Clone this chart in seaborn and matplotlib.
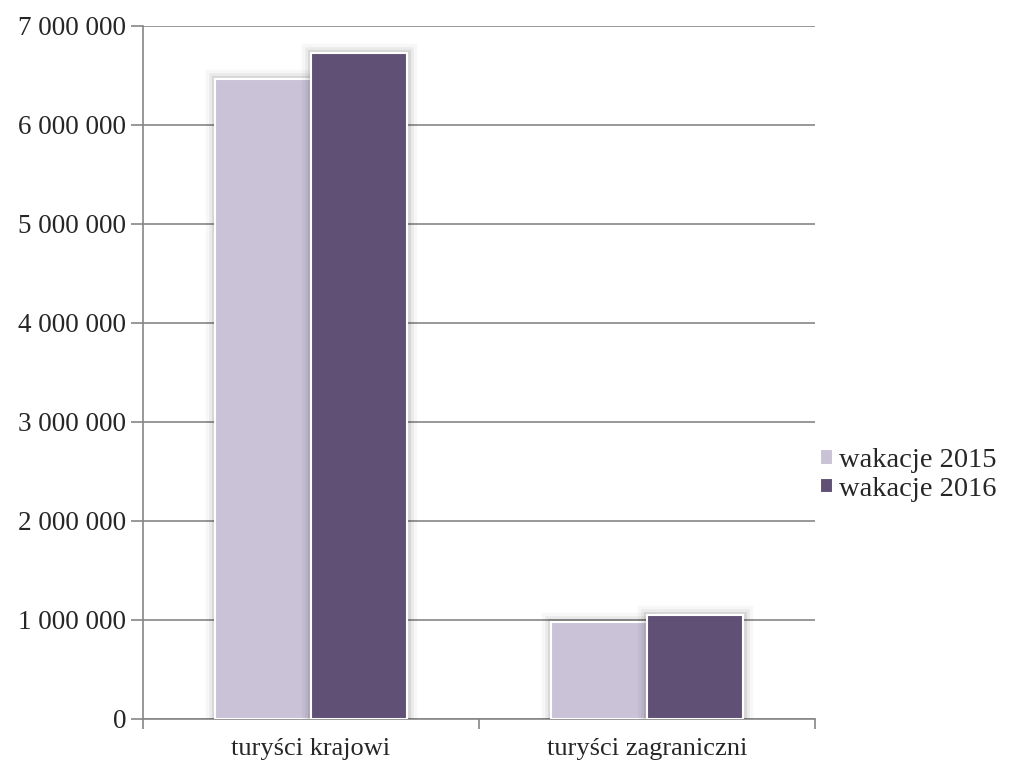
import pandas as pd
import matplotlib.pyplot as plt
import matplotlib.patheffects as pe
from matplotlib.ticker import FuncFormatter
import seaborn as sns

# Dane
kategorie = ["turyści krajowi", "turyści zagraniczni"]
wakacje_2015 = [6465000, 975000]
wakacje_2016 = [6728000, 1050000]
serie = ["wakacje 2015", "wakacje 2016"]
kolory = ["#C9BFDB", "#604A7B"]

df = pd.DataFrame({
    "kategoria": kategorie * 2,
    "seria": [serie[0]] * 2 + [serie[1]] * 2,
    "wartosc": wakacje_2015 + wakacje_2016,
})

sns.set_style("white")
plt.rcParams["font.family"] = ["Liberation Serif", "DejaVu Serif"]

fig = plt.figure(figsize=(10.18, 7.63), dpi=100)
ax = fig.add_axes([0.1405, 0.058, 0.66, 0.908])

sns.barplot(data=df, x="kategoria", y="wartosc", hue="seria",
            palette=kolory, width=0.57, ax=ax, zorder=3,
            edgecolor="white", linewidth=1.5)

ax.set_xlim(-0.5, 1.5)
ax.set_ylim(0, 7000000)
ax.set_yticks(range(0, 7000001, 1000000))
ax.yaxis.set_major_formatter(FuncFormatter(lambda v, _: f"{int(v):,}".replace(",", " ")))
ax.grid(axis="y", color="#868686", linewidth=1.2, zorder=0)
ax.set_axisbelow(True)

# podzialki osi x na granicach kategorii
ax.set_xticks([0, 1])
ax.set_xticks([-0.5, 0.5, 1.5], minor=True)
ax.tick_params(axis="x", which="major", bottom=False, length=0, labelsize=19, pad=14)
ax.tick_params(axis="x", which="minor", bottom=True, length=7, width=1.2,
               color="#868686", direction="out")
ax.tick_params(axis="y", left=True, length=9, width=1.2, color="#868686",
               direction="out", labelsize=19.5, pad=3)

for s in ["top", "right"]:
    ax.spines[s].set_visible(False)
for s in ["left", "bottom"]:
    ax.spines[s].set_color("#868686")
    ax.spines[s].set_linewidth(1.2)

ax.set_xlabel("")
ax.set_ylabel("")

leg = ax.legend(loc="center left", bbox_to_anchor=(0.978, 0.352), frameon=False,
                fontsize=20.5, handlelength=0.45, handleheight=0.45, handletextpad=0.2,
                labelspacing=0.12, borderaxespad=0.3)

# rozmyty cien wokol slupkow (tylko slupki, nie legenda)
for p in ax.patches:
    p.set_path_effects([
        pe.Stroke(linewidth=14, foreground="black", alpha=0.03),
        pe.Stroke(linewidth=9, foreground="black", alpha=0.05),
        pe.Stroke(linewidth=5, foreground="black", alpha=0.08),
        pe.Normal(),
    ])

plt.savefig("out.png", dpi=100)
plt.close()
